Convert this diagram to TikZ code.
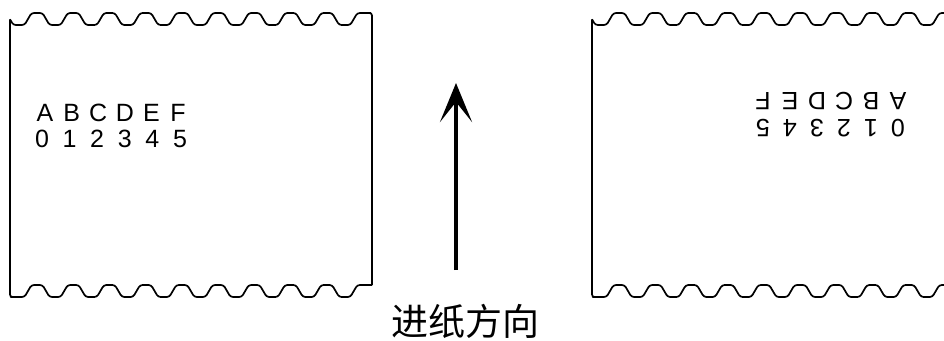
\documentclass[tikz,border=0pt]{standalone}
\usepackage{fontspec}
\setmainfont{Liberation Sans}
\newfontfamily\cjk{Noto Sans CJK SC}
\usetikzlibrary{arrows.meta,positioning}
\tikzstyle{paper}=[draw=black, line width=1.7pt, line join=round, rounded corners=2.5pt]
\tikzstyle{glyph}=[inner sep=0pt, anchor=base, font=\fontsize{25}{30}\selectfont]
\tikzstyle{flipped}=[glyph, rotate=180]
\tikzstyle{feed}=[line width=4.5pt, -{Stealth[length=39pt,width=32pt,inset=20pt]}]
\tikzstyle{caption}=[inner sep=0pt, font=\cjk\fontsize{37}{40}\selectfont]

\begin{document}
\begin{tikzpicture}[x=1pt,y=-1pt]
    \useasboundingbox (0,0) rectangle (944,340);
    \clip (0,0) rectangle (944,340);
    % left sheet
    \draw[paper] (10,19.3) \foreach \k in {0,...,9} {
        -- ({36.2*\k+13.3},25) -- ({36.2*\k+24.5},25) -- ({36.2*\k+31.5},13) -- ({36.2*\k+42.5},13)
    } -- (372,13) -- (372,285);
    \draw[paper] (10,19.3) -- (10,297) \foreach \k in {0,...,9} {
        -- ({36.2*\k+13.3},297) -- ({36.2*\k+24.5},297) -- ({36.2*\k+31.5},285) -- ({36.2*\k+42.5},285)
    } -- (372,285);
    \foreach \ch [count=\i from 0] in {A,B,C,D,E,F}
        \node[glyph] (l\i) at ({45+26.6*\i},121) {\ch};
    \foreach \d in {0,...,5}
        \node[glyph] (n\d) at ({42+27.6*\d},147) {\d};
    % right sheet
    \begin{scope}[xshift=582pt]
        \draw[paper] (10,19.3) \foreach \k in {0,...,10} {
            -- ({36.2*\k+13.3},25) -- ({36.2*\k+24.5},25) -- ({36.2*\k+31.5},13) -- ({36.2*\k+42.5},13)
        };
        \draw[paper] (10,19.3) -- (10,297) \foreach \k in {0,...,10} {
            -- ({36.2*\k+13.3},297) -- ({36.2*\k+24.5},297) -- ({36.2*\k+31.5},285) -- ({36.2*\k+42.5},285)
        };
    \end{scope}
    \foreach \ch [count=\i from 0] in {A,B,C,D,E,F}
        \node[flipped] (r\i) at ({898-27*\i},92) {\ch};
    \foreach \d in {0,...,5}
        \node[flipped] (m\d) at ({898-27*\d},119) {\d};
    % feed direction
    \coordinate (tail) at (456,270);
    \coordinate (tip) at (456,83);
    \draw[feed] (tail) -- (tip);
    \node[caption] (dir) at (465,321) {进纸方向};
\end{tikzpicture}
\end{document}
